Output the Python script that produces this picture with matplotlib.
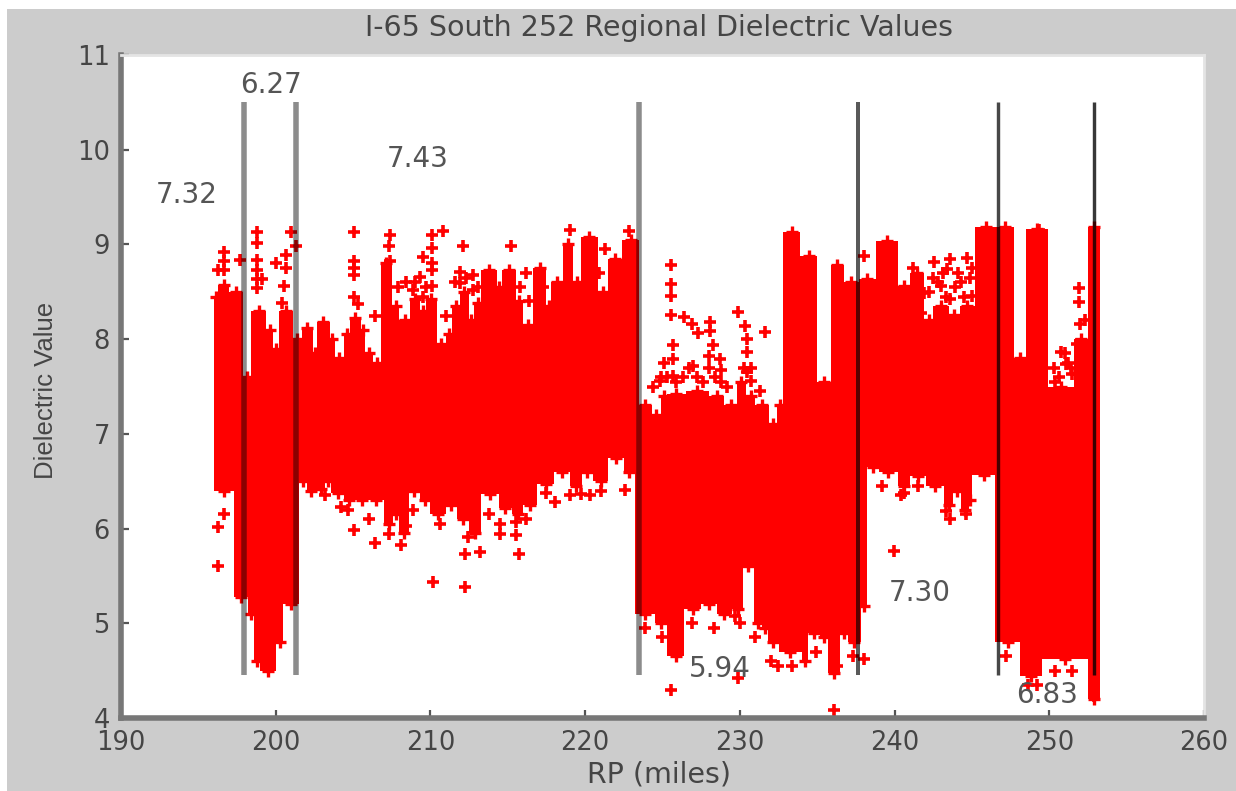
import numpy as np
import matplotlib
matplotlib.use('Agg')
from matplotlib import pyplot as plt
from matplotlib.patches import Rectangle

# upper edge of the solid red band
high_edges=[196.0,196.3,197.0,197.9,198.4,199.4,199.8,200.2,201.1,201.7,202.4,202.65,203.5,203.8,204.4,204.8,205.5,205.8,
            206.3,206.8,207.5,208.0,208.7,209.3,209.7,210.4,211.0,211.4,211.9,212.5,212.8,213.3,214.3,214.6,215.5,216.0,
            216.6,217.5,217.8,218.6,219.2,219.75,220.8,221.5,222.4,223.5,224.3,224.9,225.3,226.5,228.0,229.0,229.8,230.4,
            231.0,231.9,232.4,232.8,233.9,235.0,235.9,236.7,237.7,238.8,240.2,241.0,241.9,242.5,243.5,244.2,245.2,
            246.6,247.7,248.5,249.9,251.6,252.5,253.3]
high_vals=[8.45,8.57,8.5,7.6,8.3,8.1,7.9,8.3,8.0,8.12,7.85,8.18,8.0,7.8,8.05,8.22,8.1,7.85,
           7.75,8.8,8.35,8.2,8.42,8.3,8.42,7.95,8.05,8.35,8.5,8.2,8.38,8.73,8.55,8.73,8.4,8.15,
           8.75,8.35,8.6,9.0,8.6,9.08,8.5,8.85,9.05,7.3,7.2,7.4,7.42,7.45,7.4,7.3,7.55,7.4,
           7.3,7.1,7.3,9.13,8.88,7.55,8.78,8.6,8.63,9.04,8.56,8.7,8.2,8.35,8.25,8.35,9.18,
           9.18,7.8,9.16,7.5,8.0,9.18]
# lower edge of the solid red band
low_edges=[196.0,197.3,198.2,198.6,199.0,200.0,200.5,201.5,202.0,202.6,203.2,203.6,204.4,205.1,206.0,207.0,207.6,208.0,
           208.6,209.3,210.0,211.0,211.7,212.5,213.3,214.4,215.3,216.0,216.9,218.0,219.0,219.8,220.5,221.5,222.5,223.2,
           224.5,225.3,226.4,227.5,228.5,229.5,230.2,230.9,231.4,231.8,232.5,234.0,234.4,235.2,235.7,236.5,237.0,237.8,
           238.2,239.0,240.2,241.0,242.0,243.2,243.8,244.3,244.8,245.0,246.5,248.1,249.5,252.5,253.3]
low_vals=[6.4,5.28,5.1,4.6,4.5,4.8,5.2,6.5,6.4,6.42,6.5,6.38,6.3,6.3,6.3,6.05,6.15,5.95,
          6.4,6.3,6.15,6.25,6.1,5.95,6.36,6.22,6.15,6.25,6.47,6.6,6.45,6.6,6.5,6.75,6.6,5.1,
          5.0,4.65,5.15,5.2,5.1,5.15,5.6,5.0,4.95,4.8,4.7,4.6,4.9,4.85,4.48,4.9,4.8,5.18,
          6.65,6.6,6.45,6.55,6.45,6.25,6.4,6.2,6.3,6.57,4.8,4.44,4.62,4.2]
# stray readings outside the band
out_rp=[196.3,196.3,196.66,196.66,196.66,196.66,196.3,197.66,198.8,198.8,198.8,198.8,198.8,199.1,198.8,
        200.0,200.66,200.66,201.0,201.3,200.55,200.4,205.03,205.03,205.03,205.03,205.03,205.3,206.4,207.4,
        207.3,207.4,210.1,210.8,210.1,209.5,210.1,210.1,209.3,210.1,208.9,209.5,211.0,212.1,215.2,
        212.75,211.9,211.9,212.75,216.2,219.0,222.85,204.2,205.03,206.4,207.3,208.1,208.4,212.25,212.4,
        213.2,215.7,210.15,212.25,214.5,215.5,214.5,215.5,218.05,219.7,222.6,217.5,225.54,225.54,225.54,
        225.54,226.36,226.9,227.3,228.1,228.1,229.86,230.35,230.46,230.46,231.65,225.7,228.26,225.7,225.07,
        227.98,228.7,227.0,228.8,224.85,225.7,230.46,230.7,225.54,229.86,232.47,236.07,238.02,239.96,229.7,
        223.88,243.3,240.6,252.9,252.9,238.02,242.55,243.6,244.7,243.4,251.93,251.93,252.0,250.75,251.07,
        251.5,249.35,241.47,241.9,243.0,244.3,245.0,243.6,241.7]
out_val=[5.6,6.02,6.15,8.92,8.82,8.73,8.73,8.84,9.13,9.01,8.84,8.73,8.63,8.63,8.54,
         8.8,8.89,8.75,9.13,8.98,8.56,8.38,9.13,8.82,8.75,8.68,8.45,8.37,8.24,9.1,
         8.98,8.82,9.1,9.14,8.96,8.87,8.8,8.73,8.66,8.56,8.52,8.45,8.24,8.98,8.98,
         8.68,8.71,8.59,8.52,8.7,9.15,9.14,6.23,5.98,5.85,5.94,5.83,6.03,5.73,5.91,
         5.75,5.73,5.44,5.38,5.94,5.93,6.05,6.07,6.28,6.36,6.41,6.38,4.3,8.78,8.58,
         8.46,8.23,8.16,8.07,8.18,8.09,8.29,8.14,8.0,7.86,8.08,7.94,7.94,7.79,7.75,
         7.82,7.79,7.72,7.67,7.56,7.61,7.65,7.56,8.25,4.42,4.55,4.08,4.62,5.76,5.08,
         4.95,6.19,6.38,4.23,4.32,8.88,8.81,8.85,8.86,8.74,8.54,8.39,8.16,7.86,7.74,
         7.63,9.15,8.63,8.49,8.56,8.6,8.46,8.42,8.28]
# readings that crowd the band edge
fringe_rp=[224.4,224.9,225.3,225.9,226.3,226.7,227.2,227.6,228.0,228.4,228.8,229.2,230.3,230.7,231.3,
           242.2,242.8,243.3,243.9,244.5,244.9,242.5,243.1,244.1,241.2,245.0,
           250.3,250.6,251.0,251.4,251.8,252.2,250.4,251.2,252.3,
           207.9,208.4,209.0,209.7,211.6,212.3,213.1,215.8,216.4,217.3,220.9,221.3,
           203.2,204.7,206.0,208.9,210.6,213.8,216.2,219.0,220.3,221.0,
           225.0,226.9,228.3,230.0,231.0,232.0,233.4,234.9,236.3,237.3,
           239.2,240.4,241.5,243.6,244.6,247.2,248.6,249.2,250.4,251.5]
fringe_val=[7.5,7.6,7.6,7.55,7.6,7.7,7.6,7.55,7.7,7.6,7.55,7.5,7.7,7.7,7.45,
            8.5,8.6,8.45,8.55,8.45,8.65,8.65,8.7,8.7,8.75,8.75,
            7.7,7.6,7.85,7.7,7.95,7.8,7.55,7.75,8.2,
            8.55,8.6,8.6,8.55,8.6,8.65,8.55,8.55,8.4,8.55,8.7,8.95,
            6.35,6.2,6.1,6.2,6.05,6.15,6.1,6.35,6.35,6.4,
            4.85,5.0,4.95,5.0,4.85,4.6,4.55,4.7,4.55,4.65,
            6.45,6.35,6.45,6.1,6.15,4.65,4.35,4.35,4.5,4.5]
region_rp=[197.95,201.3,223.45,237.65,246.7,252.9]
region_labels=['7.32','6.27','7.43','5.94','7.30','6.83']
label_rp=[194.26,199.7,209.2,228.7,241.65,249.85]
label_val=[9.52,10.68,9.9,4.52,5.32,4.24]

high_edges=np.array(high_edges)
low_edges=np.array(low_edges)
# picture is stretched sideways, DejaVu is the wider font
plt.rcParams['font.family']=['DejaVu Sans']
txt='#454545'

fig=plt.figure(figsize=(12.36,7.91),dpi=100,facecolor='white')
fig.patches.append(Rectangle((7/1236,0),1-7/1236,1-9/791,transform=fig.transFigure,
                             facecolor='#cccccc',edgecolor='none',figure=fig,zorder=-5))
ax=fig.add_axes([121/1236,1-718/791,1083/1236,663/791])
ax.set_xlim(190,260)
ax.set_ylim(4,11)

ax.stairs(high_vals,high_edges,baseline=7,fill=True,color='red',zorder=2)
ax.stairs(low_vals,low_edges,baseline=7,fill=True,color='red',zorder=2)
# edge of band is made of + marks too
ax.plot((high_edges[:-1]+high_edges[1:])/2,high_vals,'+',color='red',ms=9,mew=2.4,zorder=2)
ax.plot((low_edges[:-1]+low_edges[1:])/2,low_vals,'+',color='red',ms=9,mew=2.4,zorder=2)
ax.plot(out_rp,out_val,'+',color='red',ms=9,mew=2.6,zorder=2)
ax.plot(fringe_rp,fringe_val,'+',color='red',ms=9,mew=2.6,zorder=2)

widths=[5.5,5.5,5.5,4,3.4,3.4]
alphas=[.45,.45,.45,.65,.72,.78]
for r,w,al in zip(region_rp,widths,alphas):
    ax.plot([r,r],[4.45,10.5],color='black',lw=w*.72,alpha=al,solid_capstyle='butt',zorder=3)
for s,x,y in zip(region_labels,label_rp,label_val):
    ax.text(x,y,s,fontsize=20,color='#555555',ha='center',va='center',zorder=4)

ax.set_xticks(np.arange(190,261,10))
ax.set_yticks(np.arange(4,12,1))
ax.tick_params(direction='in',length=6,width=1.6,color='#555555',labelsize=18.5,labelcolor=txt,
               top=False,right=False)
ax.tick_params(axis='x',pad=9)
ax.tick_params(axis='y',pad=8)
for s in ['left','bottom']:
    ax.spines[s].set_linewidth(4)
    ax.spines[s].set_color('#777777')
for s in ['top','right']:
    ax.spines[s].set_linewidth(2)
    ax.spines[s].set_color('#e4e4e4')
fig.text(659/1236,1-28/791,'I-65 South 252 Regional Dielectric Values',fontsize=20.5,color=txt,ha='center',va='center')
fig.text(659/1236,1-775/791,'RP (miles)',fontsize=20.5,color=txt,ha='center',va='center')
fig.text(46/1236,1-390/791,'Dielectric Value',fontsize=18.5,color=txt,ha='center',va='center',rotation=90,
         family='Liberation Sans')
fig.savefig('out.png',dpi=100,facecolor=fig.get_facecolor())
